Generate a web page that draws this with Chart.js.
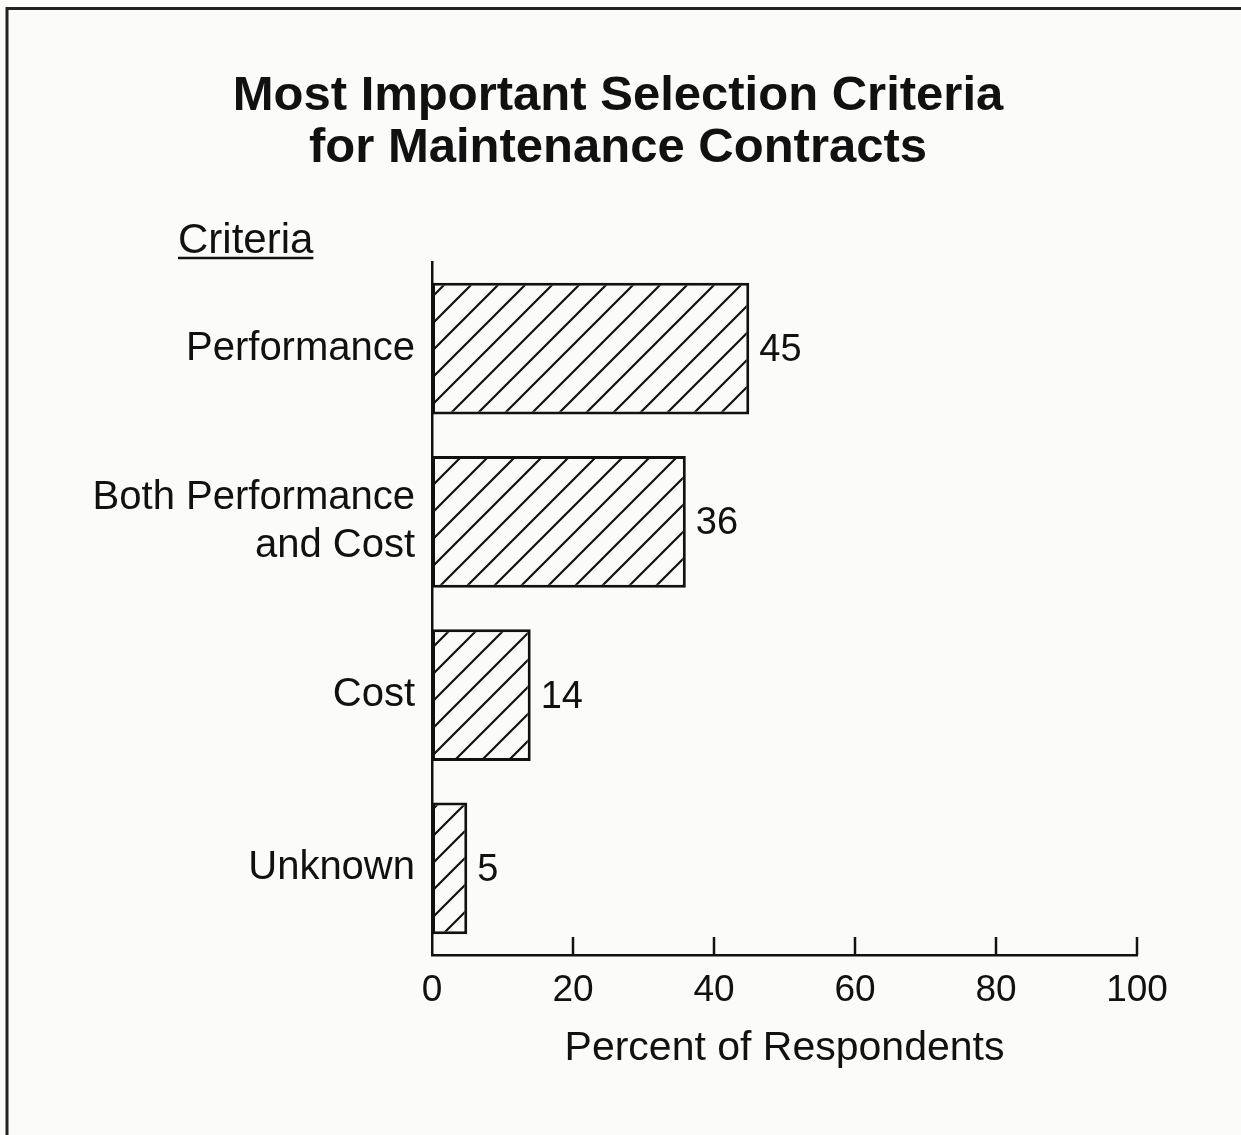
<!DOCTYPE html>
<html>
<head>
<meta charset="utf-8">
<script src="https://cdn.jsdelivr.net/npm/chart.js@4.4.1/dist/chart.umd.min.js"></script>
<style>
  html, body { margin: 0; padding: 0; background: #fbfbfa; }
  #wrap { width: 1241px; height: 1135px; position: relative; }
</style>
</head>
<body>
<div id="wrap"><canvas id="myChart" width="1241" height="1135"></canvas></div>
<script>
// Datos del grafico
const categorias = ['Performance', ['Both Performance', 'and Cost'], 'Cost', 'Unknown'];
const porcentajes = [45, 36, 14, 5];
const ticksX = [0, 20, 40, 60, 80, 100];
const tituloLineas = ['Most Important Selection Criteria', 'for Maintenance Contracts'];

const FUENTE = "'Liberation Sans', Arial, Helvetica, sans-serif";

// Patron de rayas diagonales para las barras
function crearRayado() {
    const s = 27;
    const c = document.createElement('canvas');
    c.width = s; c.height = s;
    const g = c.getContext('2d');
    g.fillStyle = '#fbfbfa';
    g.fillRect(0, 0, s, s);
    g.strokeStyle = '#111';
    g.lineWidth = 2.2;
    g.beginPath();
    g.moveTo(-2, s + 2); g.lineTo(s + 2, -2);
    g.moveTo(-2, 2); g.lineTo(2, -2);
    g.moveTo(s - 2, s + 2); g.lineTo(s + 2, s - 2);
    g.stroke();
    return g.createPattern(c, 'repeat');
}

// Marco, titulo, rotulo "Criteria", marcas del eje y valores de las barras
const extras = {
    id: 'extras',
    beforeDraw(chart) {
        const ctx = chart.ctx;
        ctx.save();
        ctx.fillStyle = '#fbfbfa';
        ctx.fillRect(0, 0, chart.width, chart.height);
        ctx.strokeStyle = '#222';
        ctx.lineWidth = 3;
        ctx.beginPath();
        ctx.moveTo(7, chart.height);
        ctx.lineTo(7, 8.5);
        ctx.lineTo(chart.width, 8.5);
        ctx.stroke();
        ctx.restore();
    },
    afterDraw(chart) {
        const ctx = chart.ctx;
        const x = chart.scales.x;
        const area = chart.chartArea;
        ctx.save();
        ctx.fillStyle = '#111';
        ctx.strokeStyle = '#111';

        // Titulo
        ctx.font = 'bold 49px ' + FUENTE;
        ctx.textAlign = 'center';
        ctx.textBaseline = 'middle';
        tituloLineas.forEach((t, i) => ctx.fillText(t, 618, 96 + i * 52));

        // Rotulo subrayado
        ctx.font = '42px ' + FUENTE;
        ctx.textAlign = 'left';
        ctx.textBaseline = 'alphabetic';
        ctx.fillText('Criteria', 178, 253);
        const w = ctx.measureText('Criteria').width;
        ctx.lineWidth = 2.5;
        ctx.beginPath();
        ctx.moveTo(178, 258); ctx.lineTo(178 + w, 258);
        ctx.stroke();

        // Marcas del eje X hacia arriba
        ctx.lineWidth = 2.5;
        ticksX.forEach(v => {
            if (v === 0) return;
            const px = x.getPixelForValue(v);
            ctx.beginPath();
            ctx.moveTo(px, area.bottom);
            ctx.lineTo(px, area.bottom - 18);
            ctx.stroke();
        });

        // Valores al final de cada barra
        ctx.font = '38px ' + FUENTE;
        ctx.textBaseline = 'middle';
        const meta = chart.getDatasetMeta(0);
        meta.data.forEach((bar, i) => {
            ctx.fillText(String(porcentajes[i]), bar.x + 10, bar.y + 2);
        });
        ctx.restore();
    }
};

let ctx = document.getElementById('myChart').getContext('2d');
let graficoChart = new Chart(ctx, {
    type: 'bar',
    data: {
        labels: categorias,
        datasets: [{
            data: porcentajes,
            backgroundColor: crearRayado(),
            borderColor: '#111',
            borderWidth: 3,
            borderSkipped: false,
            barPercentage: 0.76,
            categoryPercentage: 1
        }]
    },
    options: {
        indexAxis: 'y',
        responsive: false,
        animation: false,
        layout: { padding: { top: 262, right: 104, bottom: 0, left: 0 } },
        plugins: {
            legend: { display: false },
            tooltip: { enabled: false },
            title: { display: false }
        },
        scales: {
            x: {
                min: 0,
                max: 100,
                afterFit(scale) { scale.height = 180; },
                afterBuildTicks(scale) { scale.ticks = ticksX.map(v => ({ value: v })); },
                grid: { display: false, drawTicks: false },
                border: { display: true, color: '#111', width: 2.5 },
                ticks: {
                    color: '#111',
                    padding: 14,
                    font: { family: FUENTE, size: 37 }
                },
                title: {
                    display: true,
                    text: 'Percent of Respondents',
                    color: '#111',
                    font: { family: FUENTE, size: 41 },
                    padding: { top: 0, bottom: 62 }
                }
            },
            y: {
                afterFit(scale) { scale.width = 432; },
                grid: { display: false, drawTicks: false },
                border: { display: true, color: '#111', width: 2.5 },
                ticks: {
                    color: '#111',
                    padding: 17,
                    font: { family: FUENTE, size: 40, lineHeight: 1.2 }
                }
            }
        }
    },
    plugins: [extras]
});
</script>
</body>
</html>
